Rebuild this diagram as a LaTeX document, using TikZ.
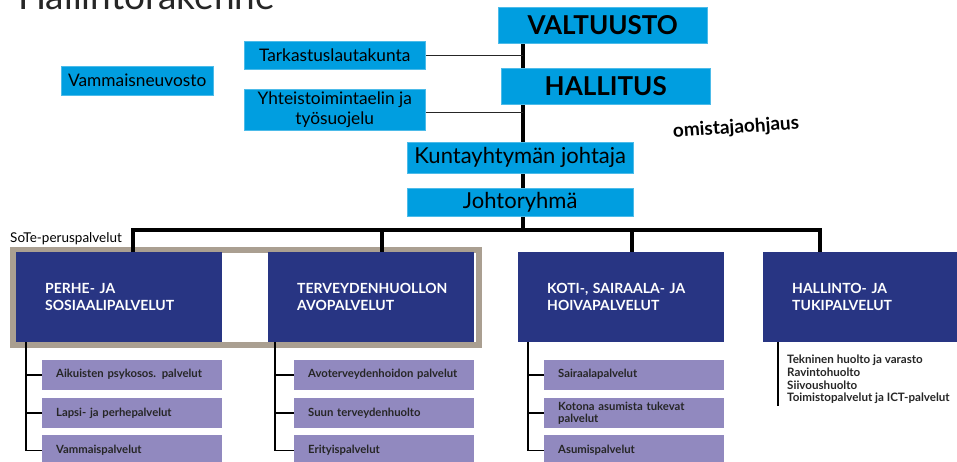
\documentclass[tikz,border=0pt]{standalone}
\usepackage{fontspec}
\setmainfont{Lato}
\usetikzlibrary{positioning}
\usetikzlibrary{backgrounds}

\definecolor{kblue}{RGB}{0,158,224}
\definecolor{knavy}{RGB}{40,53,131}
\definecolor{klila}{RGB}{145,137,191}
\definecolor{kharmaa}{RGB}{170,159,145}

\tikzset{
  elin/.style={fill=kblue,draw=kblue!70,inner sep=0pt,anchor=north west,align=center,text=black,
    font=\fontsize{17.3}{19.5}\selectfont},
  yksikko/.style={fill=knavy,inner ysep=0pt,inner xsep=29pt,anchor=north west,text width=148pt,
    minimum height=90pt,align=left,text=white,font=\bfseries\fontsize{14}{17}\selectfont},
  palvelu/.style={fill=klila,inner ysep=0pt,inner xsep=14pt,text width=152pt,minimum height=30pt,
    align=left,text=black!85,font=\bfseries\fontsize{11.3}{12.5}\selectfont},
  runko/.style={line width=4pt,black},
  haara/.style={line width=1.8pt,black},
  ohut/.style={line width=1.3pt,black!85}
}

\begin{document}
\begin{tikzpicture}[line join=miter,x=1pt,y=-1pt]
\useasboundingbox (0,0) rectangle (957,461);
\clip (0,0) rectangle (957,461);
% otsikko (leikkautuu yläreunasta)
\node[anchor=base west,inner sep=0pt,font=\fontsize{37}{40}\selectfont,text=black!85] (otsikko) at (18,9) {Hallintorakenne};

% ylin johto
\node[elin,minimum width=209pt,minimum height=36pt,font=\bfseries\fontsize{26}{28}\selectfont] (valtuusto) at (498,7) {VALTUUSTO};
\node[elin,minimum width=209pt,minimum height=36pt,font=\bfseries\fontsize{26}{28}\selectfont] (hallitus) at (501,68) {HALLITUS};
\node[elin,minimum width=181pt,minimum height=28pt] (tarkastus) at (244,41) {Tarkastuslautakunta};
\node[elin,minimum width=181pt,minimum height=41pt] (yhteis) at (244,89) {Yhteistoimintaelin ja\\työsuojelu};
\node[elin,minimum width=152pt,minimum height=29pt] (vammaisneuvosto) at (61,66) {Vammaisneuvosto};
\node[elin,minimum width=226pt,minimum height=31pt,font=\fontsize{22}{24}\selectfont] (johtaja) at (407,142) {Kuntayhtymän johtaja};
\node[elin,minimum width=226pt,minimum height=28pt,font=\fontsize{22}{24}\selectfont] (johtoryhma) at (407,188) {Johtoryhmä};
\node[rotate=4,inner sep=0pt,font=\bfseries\fontsize{19}{21}\selectfont] (omistaja) at (736,128) {omistajaohjaus};

% palvelualueet
\node[yksikko] (perhe) at (16,252) {PERHE- JA\\SOSIAALIPALVELUT};
\node[yksikko] (terveys) at (268,252) {TERVEYDENHUOLLON\\AVOPALVELUT};
\node[yksikko] (koti) at (518,252) {KOTI-, SAIRAALA- JA\\HOIVAPALVELUT};
\node[yksikko] (hallinto) at (763,252) {HALLINTO- JA\\TUKIPALVELUT};
\node[anchor=west,inner sep=0pt,font=\fontsize{13.5}{15}\selectfont] (sote) at (10,239) {SoTe-peruspalvelut};

% palvelut
\node[palvelu,anchor=north east] (aikuiset) at ([yshift=-17pt]perhe.south east) {Aikuisten psykosos. palvelut};
\node[palvelu,below=8pt of aikuiset] (lapsi) {Lapsi- ja perhepalvelut};
\node[palvelu,below=7pt of lapsi] (vammais) {Vammaispalvelut};
\node[palvelu,anchor=north east] (avo) at ([yshift=-17pt]terveys.south east) {Avoterveydenhoidon palvelut};
\node[palvelu,below=8pt of avo] (suu) {Suun terveydenhuolto};
\node[palvelu,below=7pt of suu] (erityis) {Erityispalvelut};
\node[palvelu,anchor=north east] (sairaala) at ([yshift=-17pt]koti.south east) {Sairaalapalvelut};
\node[palvelu,below=8pt of sairaala] (kotona) {Kotona asumista tukevat\\palvelut};
\node[palvelu,below=7pt of kotona] (asumis) {Asumispalvelut};
\node[anchor=north west,inner sep=0pt,align=left,font=\bfseries\fontsize{11.6}{12.7}\selectfont,text=black!85] (tuki) at (787,355)
  {Tekninen huolto ja varasto\\Ravintohuolto\\Siivoushuolto\\Toimistopalvelut ja ICT-palvelut};

\coordinate (selka) at (523,230);
\coordinate (haara1) at (133,230);
\coordinate (haara2) at (382,230);
\coordinate (haara3) at (632,230);
\coordinate (haara4) at (820,230);
\coordinate (tukiloppu) at (778,406);

\begin{scope}[on background layer]
\draw[kharmaa,line width=6pt,fill=white] ([shift={(-3,-2)}]perhe.north west) rectangle ([shift={(5,3)}]terveys.south east);
\draw[runko] (selka |- valtuusto.south) -- (selka);
\draw[ohut] (tarkastus.east) -- (tarkastus.east -| selka);
\draw[ohut] ([yshift=-3pt]yhteis.east) -- ([yshift=-3pt]yhteis.east -| selka);
\draw[runko] (haara1 |- perhe.north) -- (haara1) -- (haara4) -- (haara4 |- hallinto.north);
\draw[runko] (haara2) -- (haara2 |- terveys.north);
\draw[runko] (haara3) -- (haara3 |- koti.north);
\foreach \yla/\a/\b/\c/\dx in {perhe/aikuiset/lapsi/vammais/10,terveys/avo/suu/erityis/7,koti/sairaala/kotona/asumis/10}
{
  \draw[haara] ([xshift=\dx]\yla.south west) |- (\a.west);
  \draw[haara] ([xshift=\dx]\yla.south west) |- (\b.west);
  \draw[haara] ([xshift=\dx]\yla.south west) |- (\c.west);
}
\draw[haara] (hallinto.south west -| tukiloppu) -- (tukiloppu);
\end{scope}
\end{tikzpicture}
\end{document}
